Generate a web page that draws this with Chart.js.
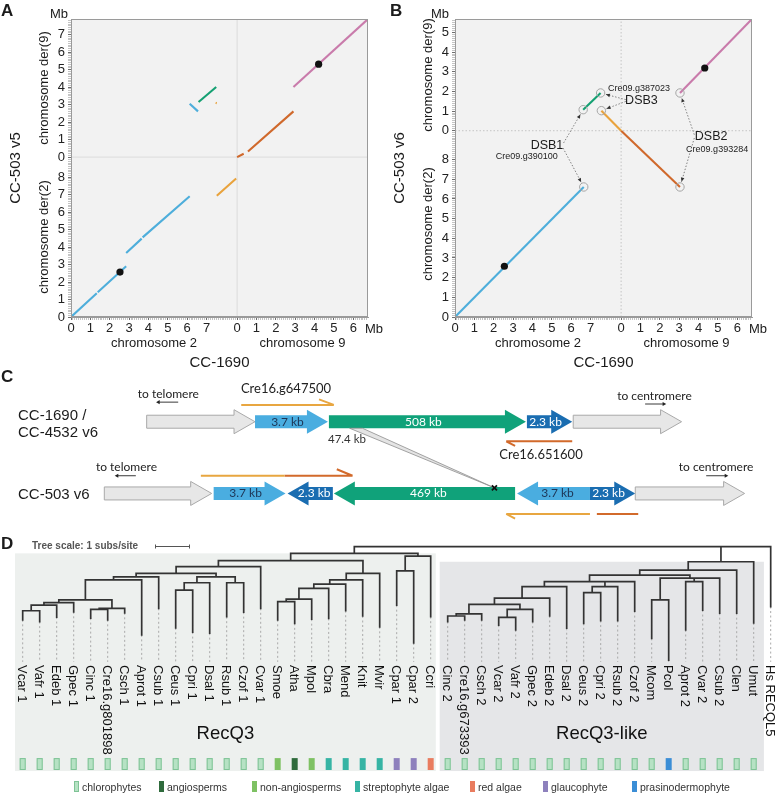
<!DOCTYPE html>
<html>
<head>
<meta charset="utf-8">
<title>Chromosome 2/9 rearrangement in CC-503 and RecQ3 phylogeny</title>
<script src="https://cdn.jsdelivr.net/npm/chart.js"></script>
<style>
  html, body { margin: 0; padding: 0; background: #fff; }
  #fig { position: relative; width: 778px; height: 793px; overflow: hidden;
         font-family: "Liberation Sans", Arial, sans-serif; color: #1b1b1b; }
  #fig canvas { position: absolute; }
  .lbl { position: absolute; white-space: nowrap; line-height: 1; transform: translate(-50%, -50%); }
  .rot { transform: translate(-50%, -50%) rotate(-90deg); }
  .lft { position: absolute; white-space: nowrap; line-height: 1; transform: translate(0, -50%); }
  .panel { position: absolute; font-weight: bold; font-size: 17px; line-height: 1; }
  .lato { font-family: Lato, "Liberation Sans", sans-serif; }
  .tip { position: absolute; writing-mode: vertical-rl; font-size: 13px; line-height: 1;
         white-space: nowrap; transform: translateX(-50%); color: #111; }
  .sw { position: absolute; width: 5px; height: 11px; box-sizing: border-box; }
</style>
</head>
<body>
<div id="fig">
  <canvas id="dotA" width="390" height="340" style="left:0;top:0"></canvas>
  <canvas id="dotB" width="388" height="340" style="left:390px;top:0"></canvas>
  <canvas id="genes" width="778" height="170" style="left:0;top:360px"></canvas>
  <canvas id="tree" width="778" height="263" style="left:0;top:530px"></canvas>
</div>
<script>
// ---------------- A / B : dot plots (Mb) ----------------
// CC-1690 chromosomes on x
const chr2Len = 8.58;
const chr9Len = 6.76;
const chr2Ticks = [0, 1, 2, 3, 4, 5, 6, 7];
const chr9Ticks = [0, 1, 2, 3, 4, 5, 6];

// CC-503 derivative chromosomes on y
const v5Der2Len = 9.14, v5Der9Len = 7.89;
const v6Der2Len = 9.47, v6Der9Len = 5.68;
const der2Ticks = [0, 1, 2, 3, 4, 5, 6, 7, 8];
const v5Der9Ticks = [0, 1, 2, 3, 4, 5, 6, 7];
const v6Der9Ticks = [0, 1, 2, 3, 4, 5];

// alignment blocks: [x chrom, x start, x end, y chrom, y start, y end]
const v5Chr2Der2  = [["2", 0, 1.33, "d2", 0, 1.36], ["2", 1.38, 2.85, "d2", 1.42, 2.9],
                     ["2", 2.85, 3.65, "d2", 3.66, 4.48], ["2", 3.7, 6.13, "d2", 4.55, 6.9]];
const v5Chr2End   = [["2", 7.53, 8.53, "d2", 6.93, 7.92], ["2", 7.47, 7.53, "d9", 3.1, 3.08]];
const v5Chr2Inv   = [["2", 6.13, 6.56, "d9", 3.05, 2.61]];
const v5Chr2Der9  = [["2", 6.59, 7.5, "d9", 3.15, 4.0]];
const v5Chr9Start = [["9", 0, 0.34, "d9", 0, 0.19], ["9", 0.56, 2.91, "d9", 0.32, 2.61]];
const v5Chr9Der9  = [["9", 2.91, 6.76, "d9", 4.0, 7.89]];
const v5Markers   = [["2", 2.53, "d2", 2.57], ["9", 4.21, "d9", 5.31]];

const v6Chr2Der2  = [["2", 0, 6.65, "d2", 0, 6.61]];
const v6Chr2Der9  = [["2", 6.62, 7.52, "d9", 1.07, 1.92]];
const v6Chr2End   = [["2", 7.56, 8.58, "d9", 1.02, 0]];
const v6Chr9Start = [["9", 0, 3.04, "d2", 9.47, 6.61]];
const v6Chr9Der9  = [["9", 3.04, 6.76, "d9", 1.92, 5.68]];
const v6Markers   = [["2", 2.55, "d2", 2.58], ["9", 4.32, "d9", 3.19]];
const v6Breaks    = [["2", 6.65, "d2", 6.61], ["2", 6.62, "d9", 1.07], ["2", 7.52, "d9", 1.92],
                     ["2", 7.56, "d9", 1.02], ["9", 3.04, "d2", 6.61], ["9", 3.04, "d9", 1.92]];
const dsbNames  = ["DSB1", "DSB2", "DSB3"];
const dsbGenes  = ["Cre09.g390100", "Cre09.g393284", "Cre09.g387023"];
const dsbBreaks = [[1, 0], [5, 4], [2, 3]];   // index into v6Breaks

// ---------------- C : gene blocks (schematic) ----------------
const lineNames = [["CC-1690 /", "CC-4532 v6"], ["CC-503 v6"]];
const rowY      = [420, 497];
const geneRow   = [0, 0, 0, 0, 0, 1, 1, 1, 1, 1, 1, 1];
const geneFrom  = [143, 253, 328, 529, 576, 100, 211, 286, 333, 519, 593, 639];
const geneTo    = [253, 327, 528, 575, 686, 209, 284, 332, 517, 593, 639, 750];
const geneDir   = [1, 1, 1, 1, 1, 1, 1, -1, -1, -1, 1, 1];
const geneKind  = ["flank", "r37", "inv", "r23", "flank", "flank", "r37", "r23", "inv", "r37", "r23", "flank"];
const geneLabel = ["", "3.7 kb", "508 kb", "2.3 kb", "", "", "3.7 kb", "2.3 kb", "469 kb", "3.7 kb", "2.3 kb", ""];
// primers: [x1, y1, x2, y2, gene]
const primerSegs = [
  [239, 402, 333, 402, "a"], [333, 402, 318, 396, "a"],
  [575, 441, 508, 441, "b"], [508, 441, 517, 446, "b"],
  [198, 478, 283, 478, "a"], [283, 478, 352, 478, "b"], [352, 478, 336, 471, "b"],
  [593, 519, 508, 519, "a"], [508, 519, 517, 524, "a"], [600, 519, 642, 519, "b"]
];
const pointerText = ["to telomere", "to centromere", "to telomere", "to centromere"];
const pointerFrom = [175, 649, 132, 711];
const pointerTo   = [155, 668, 113, 731];
const pointerY    = [399, 401, 478, 478];
const deletionWedge = [[349, 427], [362, 427], [496, 491]];
const breakMark = [496, 491];

// ---------------- D : RecQ3 tree ----------------
const taxa = ["Vcar 1", "Vafr 1", "Edeb 1", "Gpec 1", "Cinc 1", "Cre16.g801898", "Csch 1", "Aprot 1",
  "Csub 1", "Ceus 1", "Cpri 1", "Dsal 1", "Rsub 1", "Czof 1", "Cvar 1", "Smoe", "Atha", "Mpol", "Cbra",
  "Mend", "Knit", "Mvir", "Cpar 1", "Cpar 2", "Ccri", "Cinc 2", "Cre16.g673393", "Csch 2", "Vcar 2",
  "Vafr 2", "Gpec 2", "Edeb 2", "Dsal 2", "Ceus 2", "Cpri 2", "Rsub 2", "Czof 2", "Mcom", "Pcol",
  "Aprot 2", "Cvar 2", "Csub 2", "Clen", "Umut", "Hs RECQL5"];
const taxonGroup = ["chl", "chl", "chl", "chl", "chl", "chl", "chl", "chl", "chl", "chl", "chl", "chl",
  "chl", "chl", "chl", "non", "ang", "non", "str", "str", "str", "str", "gla", "gla", "red", "chl", "chl",
  "chl", "chl", "chl", "chl", "chl", "chl", "chl", "chl", "chl", "chl", "chl", "pra", "chl", "chl", "chl",
  "chl", "chl", ""];
const groupKeys  = ["chl", "ang", "non", "str", "red", "gla", "pra"];
const groupNames = ["chlorophytes", "angiosperms", "non-angiosperms", "streptophyte algae", "red algae",
  "glaucophyte", "prasinodermophyte"];
// node = [depth from root (subs/site), children...]; tip = [name, depth]
const tree = [0,
  [0.19,
    [0.40,
      [0.57,
        [0.76,
          [0.86,
            [0.95,
              [1.52,
                [1.60, [1.67, [1.83, ["Vcar 1", 2.09], ["Vafr 1", 2.14]], ["Edeb 1", 2.01]], ["Gpec 1", 1.86]],
                [1.76, [1.79, ["Cinc 1", 2.04], ["Cre16.g801898", 2.09]], ["Csch 1", 1.89]]],
              ["Aprot 1", 2.52]],
            ["Csub 1", 1.76]],
          [0.86,
            [1.03, [1.24, ["Ceus 1", 2.32], ["Cpri 1", 2.44]], ["Dsal 1", 2.47]],
            [1.03, ["Rsub 1", 2.0], ["Czof 1", 1.87]]]],
        ["Cvar 1", 1.76]],
      [0.76,
        [0.95,
          [1.07,
            [1.19, [1.50, [1.57, ["Smoe", 2.09], ["Atha", 2.19]], ["Mpol", 2.07]], ["Cbra", 2.05]],
            ["Mend", 1.83]],
          ["Knit", 1.98]],
        ["Mvir", 2.29]]],
    [0.27, [0.69, ["Cpar 1", 1.67], ["Cpar 2", 2.75]], ["Ccri", 2.0]]],
  [0.43,
    [0.67,
      [0.81,
        [1.0,
          [1.14,
            [1.47,
              [1.65,
                [1.92, [1.98, ["Cinc 2", 2.14], ["Cre16.g673393", 2.09]], ["Csch 2", 2.09]],
                [1.79, [2.02, ["Vcar 2", 2.24], ["Vafr 2", 2.38]], ["Gpec 2", 2.14]]],
              ["Edeb 2", 1.98]],
            ["Dsal 2", 2.33]],
          [1.14, [1.31, ["Ceus 2", 2.19], ["Cpri 2", 2.11]], ["Rsub 2", 2.11]],
          ["Czof 2", 1.84]],
        [0.90,
          [1.52, ["Mcom", 2.62], ["Pcol", 3.24]],
          [1.0, ["Aprot 2", 2.38], ["Cvar 2", 1.81]],
          ["Csub 2", 1.90]]],
      ["Clen", 1.90]],
    ["Umut", 2.18]],
  ["Hs RECQL5", 1.71]];

// ======================================================================
const FONT = '"Liberation Sans", Arial, sans-serif';
Chart.defaults.font.family = FONT;
Chart.defaults.animation = false;
Chart.defaults.events = [];
Chart.defaults.plugins.legend.display = false;
Chart.defaults.plugins.tooltip.enabled = false;

const fig = document.getElementById("fig");
function place(text, x, y, cls, style) {
  const el = document.createElement("div");
  el.className = cls || "lbl";
  el.textContent = text;
  el.style.left = x + "px";
  el.style.top = y + "px";
  if (style) Object.assign(el.style, style);
  fig.appendChild(el);
  return el;
}

// major ticks per chromosome, minor every 0.1 Mb
function axisTicks(parts) {
  const ticks = [], labels = [], major = [];
  parts.forEach(([offset, len, majors]) => {
    for (let k = 0; k <= Math.floor(len * 10 + 1e-9); k++) {
      const v = k / 10;
      const isMajor = majors.includes(v);
      ticks.push({ value: offset + v });
      labels.push(isMajor ? String(v) : "");
      major.push(isMajor);
    }
  });
  return { ticks, labels, major };
}

const plotFrame = {
  id: "plotFrame",
  beforeDraw(chart) {
    const { ctx, chartArea: a } = chart;
    ctx.save();
    ctx.fillStyle = "#f2f2f2";
    ctx.fillRect(a.left, a.top, a.width, a.height);
    ctx.restore();
  },
  afterDraw(chart) {
    const { ctx, chartArea: a } = chart;
    ctx.save();
    ctx.strokeStyle = "#9a9a9a";
    ctx.lineWidth = 1;
    ctx.strokeRect(Math.round(a.left) + 0.5, Math.round(a.top) + 0.5, Math.round(a.width) - 1, Math.round(a.height) - 1);
    ctx.restore();
  }
};

function dotPlot(canvasId, p) {
  const xMax = chr2Len + chr9Len, yMax = p.der2Len + p.der9Len;
  const X = (c, v) => (c === "9" ? chr2Len + v : v);
  const Y = (c, v) => (c === "d9" ? p.der2Len + v : v);
  const path = blocks => blocks.flatMap(b => [
    { x: X(b[0], b[1]), y: Y(b[3], b[4]) },
    { x: X(b[0], b[2]), y: Y(b[3], b[5]) },
    { x: null, y: null }
  ]);
  const pts = list => list.map(m => ({ x: X(m[0], m[1]), y: Y(m[2], m[3]) }));
  const xt = axisTicks([[0, chr2Len, chr2Ticks], [chr2Len, chr9Len, chr9Ticks]]);
  const yt = axisTicks([[0, p.der2Len, der2Ticks], [p.der2Len, p.der9Len, p.der9Ticks]]);

  const datasets = [{ data: pts(p.markers), pointRadius: 3.6, pointBackgroundColor: "#111", pointBorderWidth: 0 }];
  if (p.breaks) {
    datasets.push({ data: pts(p.breaks), pointRadius: 4.2, pointBackgroundColor: "rgba(0,0,0,0)",
                    pointBorderColor: "#a6a6a6", pointBorderWidth: 1 });
  }
  p.series.forEach(s => datasets.push({ data: path(s.blocks), showLine: true, borderColor: s.color,
                                        borderWidth: 2.1, pointRadius: 0, spanGaps: false }));
  datasets.push({ data: [{ x: chr2Len, y: 0 }, { x: chr2Len, y: yMax }, { x: null, y: null },
                         { x: 0, y: p.der2Len }, { x: xMax, y: p.der2Len }],
                  showLine: true, borderColor: p.divColor, borderWidth: 1, borderDash: p.divDash,
                  pointRadius: 0, spanGaps: false });

  const arrows = {
    id: "dsbArrows",
    afterDatasetsDraw(chart) {
      if (!p.arrows) return;
      const { ctx, scales: { x, y } } = chart;
      ctx.save();
      ctx.strokeStyle = "#6e6e6e";
      ctx.fillStyle = "#333";
      ctx.lineWidth = 0.9;
      p.arrows.forEach(([fx, fy, tx, ty]) => {
        const x1 = x.getPixelForValue(fx), y1 = y.getPixelForValue(fy);
        let x2 = x.getPixelForValue(tx), y2 = y.getPixelForValue(ty);
        const L = Math.hypot(x2 - x1, y2 - y1), ux = (x2 - x1) / L, uy = (y2 - y1) / L;
        x2 -= ux * 5.5; y2 -= uy * 5.5;
        ctx.setLineDash([1.4, 1.8]);
        ctx.beginPath(); ctx.moveTo(x1, y1); ctx.lineTo(x2, y2); ctx.stroke();
        ctx.setLineDash([]);
        ctx.beginPath();
        ctx.moveTo(x2, y2);
        ctx.lineTo(x2 - ux * 4 - uy * 1.8, y2 - uy * 4 + ux * 1.8);
        ctx.lineTo(x2 - ux * 4 + uy * 1.8, y2 - uy * 4 - ux * 1.8);
        ctx.closePath(); ctx.fill();
      });
      ctx.restore();
    }
  };

  const tickFont = { family: FONT, size: 13 };
  const chart = new Chart(document.getElementById(canvasId), {
    type: "scatter",
    data: { datasets },
    options: {
      responsive: false,
      devicePixelRatio: 1,
      layout: { padding: { left: 0, top: 19, right: p.padRight, bottom: 0 } },
      scales: {
        x: {
          type: "linear", min: 0, max: xMax,
          afterBuildTicks: ax => { ax.ticks = xt.ticks.map(t => ({ value: t.value })); },
          afterFit: ax => { ax.height = 23; },
          ticks: { autoSkip: false, maxRotation: 0, minRotation: 0, padding: 1, color: "#222", font: tickFont,
                   callback: (v, i) => xt.labels[i] },
          grid: { drawOnChartArea: false, drawTicks: true, tickLength: 3,
                  tickColor: c => (xt.major[c.index] ? "#6f6f6f" : "#c4c4c4") },
          border: { display: true, color: "#9a9a9a" }
        },
        y: {
          type: "linear", min: 0, max: yMax,
          afterBuildTicks: ax => { ax.ticks = yt.ticks.map(t => ({ value: t.value })); },
          afterFit: ax => { ax.width = p.yAxisW; },
          ticks: { autoSkip: false, padding: 3, color: "#222", font: tickFont, callback: (v, i) => yt.labels[i] },
          grid: { drawOnChartArea: false, drawTicks: true, tickLength: 3,
                  tickColor: c => (yt.major[c.index] ? "#6f6f6f" : "#c4c4c4") },
          border: { display: true, color: "#9a9a9a" }
        }
      }
    },
    plugins: [plotFrame, arrows]
  });

  // axis titles
  const a = chart.chartArea, xs = chart.scales.x, ys = chart.scales.y;
  const L = p.left;
  place("chromosome der(9)", L + a.left - 28.5, (ys.getPixelForValue(p.der2Len) + ys.getPixelForValue(yMax)) / 2,
        "lbl rot", { fontSize: "13px" });
  place("chromosome der(2)", L + a.left - 28.5, (ys.getPixelForValue(0) + ys.getPixelForValue(p.der2Len)) / 2,
        "lbl rot", { fontSize: "13px" });
  place(p.strain, L + a.left - 57.5, (a.top + a.bottom) / 2, "lbl rot", { fontSize: "15px" });
  place("Mb", L + a.left + p.mbDx, 13, "lbl", { fontSize: "13px" });
  place("Mb", L + a.right + 6, 328, "lbl", { fontSize: "13px" });
  place("chromosome 2", L + (xs.getPixelForValue(0) + xs.getPixelForValue(chr2Len)) / 2, 342, "lbl", { fontSize: "13px" });
  place("chromosome 9", L + (xs.getPixelForValue(chr2Len) + xs.getPixelForValue(xMax)) / 2, 342, "lbl", { fontSize: "13px" });
  place("CC-1690", L + (a.left + a.right) / 2, 361, "lbl", { fontSize: "15px" });
  return chart;
}

const BLUE = "#4eaedb", GREEN = "#14a072", ORANGE = "#e9a33d", RUST = "#d0692c", MAUVE = "#c97bab";

dotPlot("dotA", {
  left: 0, der2Len: v5Der2Len, der9Len: v5Der9Len, der9Ticks: v5Der9Ticks, strain: "CC-503 v5",
  yAxisW: 71, padRight: 22, mbDx: -12, divColor: "#dcdcdc", divDash: [],
  markers: v5Markers,
  series: [
    { blocks: v5Chr2Der2, color: BLUE }, { blocks: v5Chr2Inv, color: BLUE },
    { blocks: v5Chr2Der9, color: GREEN }, { blocks: v5Chr2End, color: ORANGE },
    { blocks: v5Chr9Start, color: RUST }, { blocks: v5Chr9Der9, color: MAUVE }
  ]
});

// DSB annotation anchors (combined Mb coordinates of panel B)
const dsbLabelAt = [[4.75, 8.72], [13.23, 9.18], [9.63, 11.01]];
const dsbGeneAt  = [[3.71, 8.16], [13.54, 8.54], [9.51, 11.64]];
const dsbFrom    = [[[5.61, 8.85], [5.58, 8.59]], [[12.36, 9.27], [12.36, 9.1]], [[8.82, 11.05], [8.82, 10.96]]];
const bx = b => (b[0] === "9" ? chr2Len + b[1] : b[1]);
const by = b => (b[2] === "d9" ? v6Der2Len + b[3] : b[3]);
const dsbArrowList = [];
dsbBreaks.forEach((pair, k) => pair.forEach((bi, j) => {
  const b = v6Breaks[bi];
  dsbArrowList.push([dsbFrom[k][j][0], dsbFrom[k][j][1], bx(b), by(b)]);
}));

const chartB = dotPlot("dotB", {
  left: 390, der2Len: v6Der2Len, der9Len: v6Der9Len, der9Ticks: v6Der9Ticks, strain: "CC-503 v6",
  yAxisW: 65, padRight: 26, mbDx: -15, divColor: "#c4c4c4", divDash: [1.5, 2],
  markers: v6Markers, breaks: v6Breaks, arrows: dsbArrowList,
  series: [
    { blocks: v6Chr2Der2, color: BLUE }, { blocks: v6Chr2Der9, color: GREEN },
    { blocks: v6Chr2End, color: ORANGE }, { blocks: v6Chr9Start, color: RUST },
    { blocks: v6Chr9Der9, color: MAUVE }
  ]
});
dsbNames.forEach((n, k) => {
  const xs = chartB.scales.x, ys = chartB.scales.y;
  place(n, 390 + xs.getPixelForValue(dsbLabelAt[k][0]), ys.getPixelForValue(dsbLabelAt[k][1]), "lbl", { fontSize: "12.5px" });
  place(dsbGenes[k], 390 + xs.getPixelForValue(dsbGeneAt[k][0]), ys.getPixelForValue(dsbGeneAt[k][1]), "lbl",
        { fontSize: "9px", color: "#222" });
});

place("A", 1, 2, "panel");
place("B", 390, 2, "panel");

// ---------------- C ----------------
const geneStyle = {
  flank: { fill: "#e7e7e7", stroke: "#a9a9a9", text: "#333" },
  r37:   { fill: "#4aade0", stroke: null, text: "#1d3555" },
  r23:   { fill: "#1a6db1", stroke: null, text: "#ffffff" },
  inv:   { fill: "#10a27a", stroke: null, text: "#ffffff" }
};
const primerColor = { a: "#e8a640", b: "#d26a2b" };

const geneShapes = {
  id: "geneShapes",
  beforeDatasetsDraw(chart) {
    const { ctx, scales: { x, y } } = chart;
    const body = 6.5, head = 12, hl = 21;
    ctx.save();
    geneFrom.forEach((from, i) => {
      const st = geneStyle[geneKind[i]];
      const x1 = x.getPixelForValue(from), x2 = x.getPixelForValue(geneTo[i]);
      const yc = y.getPixelForValue(rowY[geneRow[i]]);
      const poly = geneDir[i] > 0
        ? [[x1, yc - body], [x2 - hl, yc - body], [x2 - hl, yc - head], [x2, yc], [x2 - hl, yc + head], [x2 - hl, yc + body], [x1, yc + body]]
        : [[x2, yc - body], [x1 + hl, yc - body], [x1 + hl, yc - head], [x1, yc], [x1 + hl, yc + head], [x1 + hl, yc + body], [x2, yc + body]];
      ctx.beginPath();
      poly.forEach(([px, py], k) => (k ? ctx.lineTo(px, py) : ctx.moveTo(px, py)));
      ctx.closePath();
      ctx.fillStyle = st.fill;
      ctx.fill();
      if (st.stroke) { ctx.strokeStyle = st.stroke; ctx.lineWidth = 1; ctx.stroke(); }
    });
    // deleted segment joining the two lines
    ctx.beginPath();
    deletionWedge.forEach(([wx, wy], k) => {
      const px = x.getPixelForValue(wx), py = y.getPixelForValue(wy);
      k ? ctx.lineTo(px, py) : ctx.moveTo(px, py);
    });
    ctx.closePath();
    ctx.fillStyle = "rgba(225,225,225,0.9)";
    ctx.fill();
    ctx.strokeStyle = "#8e8e8e";
    ctx.lineWidth = 0.8;
    ctx.stroke();
    ctx.restore();
  }
};

const primerData = kind => primerSegs.filter(s => s[4] === kind)
  .flatMap(s => [{ x: s[0], y: s[1] }, { x: s[2], y: s[3] }, { x: null, y: null }]);
const pointerLines = pointerFrom.flatMap((f, i) => [{ x: f, y: pointerY[i] }, { x: pointerTo[i], y: pointerY[i] }, { x: null, y: null }]);
const pointerHeads = pointerTo.map((t, i) => ({ x: t, y: pointerY[i], rot: t > pointerFrom[i] ? 90 : -90 }));

const genesChart = new Chart(document.getElementById("genes"), {
  type: "scatter",
  data: {
    datasets: [
      { data: [{ x: breakMark[0], y: breakMark[1] }], pointStyle: "crossRot", pointRadius: 3.6,
        pointBorderColor: "#111", pointBorderWidth: 1.8 },
      { data: primerData("a"), showLine: true, borderColor: primerColor.a, borderWidth: 2, pointRadius: 0, spanGaps: false },
      { data: primerData("b"), showLine: true, borderColor: primerColor.b, borderWidth: 2, pointRadius: 0, spanGaps: false },
      { data: pointerHeads, pointStyle: "triangle", pointRadius: 2.4, pointRotation: c => (c.raw ? c.raw.rot : 0),
        pointBackgroundColor: "#222", pointBorderWidth: 0 },
      { data: pointerLines, showLine: true, borderColor: "#222", borderWidth: 0.9, pointRadius: 0, spanGaps: false }
    ]
  },
  options: {
    responsive: false, devicePixelRatio: 1, layout: { padding: 0 },
    scales: {
      x: { type: "linear", display: false, min: 0, max: 778 },
      y: { type: "linear", display: false, min: 360, max: 530, reverse: true }
    }
  },
  plugins: [geneShapes]
});

(function labelGenes() {
  const xs = genesChart.scales.x, ys = genesChart.scales.y, top = 360;
  geneLabel.forEach((t, i) => {
    if (!t) return;
    const cx = (xs.getPixelForValue(geneFrom[i]) + xs.getPixelForValue(geneTo[i])) / 2 - geneDir[i] * 4;
    place(t, cx, top + ys.getPixelForValue(rowY[geneRow[i]]), "lbl lato",
          { fontSize: "12px", color: geneStyle[geneKind[i]].text });
  });
  pointerText.forEach((t, i) => {
    const cx = (xs.getPixelForValue(pointerFrom[i]) + xs.getPixelForValue(pointerTo[i])) / 2;
    place(t, cx, top + ys.getPixelForValue(pointerY[i]) - 8.5, "lbl lato", { fontSize: "12px", color: "#222" });
  });
  place("Cre16.g647500", 286, 388, "lbl lato", { fontSize: "13px", color: "#222" });
  place("Cre16.651600", 541, 454, "lbl lato", { fontSize: "13px", color: "#222" });
  place("47.4 kb", 347, 439, "lbl lato", { fontSize: "11.5px", color: "#333" });
  place(lineNames[0][0], 18, top + ys.getPixelForValue(rowY[0]) - 8, "lft", { fontSize: "15px" });
  place(lineNames[0][1], 18, top + ys.getPixelForValue(rowY[0]) + 9, "lft", { fontSize: "15px" });
  place(lineNames[1][0], 18, top + ys.getPixelForValue(rowY[1]), "lft", { fontSize: "15px" });
  place("C", 1, 368, "panel");
})();

// ---------------- D ----------------
const groupColor = { chl: "#b6e2c4", ang: "#2f6b3c", non: "#7ec163", str: "#36b4a4",
                     red: "#e97c5f", gla: "#8e81bd", pra: "#3b8ed6" };
const groupEdge = { chl: "#7fc396" };

const branches = [], tipEnds = [], nodes = [];
function layoutTree(node) {
  if (typeof node[0] === "string") {
    const i = taxa.indexOf(node[0]);
    tipEnds.push({ x: i, d: node[1] });
    return { x: i, d: node[1], lo: i, hi: i };
  }
  const d = node[0];
  const kids = node.slice(1).map(layoutTree);
  const x0 = kids[0].x, x1 = kids[kids.length - 1].x;
  branches.push({ x: x0, y: d }, { x: x1, y: d }, { x: null, y: null });
  kids.forEach(k => branches.push({ x: k.x, y: d }, { x: k.x, y: k.d }, { x: null, y: null }));
  const out = { x: (x0 + x1) / 2, d, lo: kids[0].lo, hi: kids[kids.length - 1].hi };
  nodes.push({ node, ...out });
  return out;
}
layoutTree(tree);
const guideDepth = 3.29, labelDepth = 3.38, swatchTop = 6.04, swatchBottom = 6.38, cladeBottom = 6.41;
const guides = tipEnds.flatMap(t => [{ x: t.x, y: t.d }, { x: t.x, y: guideDepth }, { x: null, y: null }]);
const cladeOf = n => nodes.find(o => o.node === n);
const clades = [
  { name: "RecQ3", info: cladeOf(tree[1]), padL: 0.45, padR: 0.3, fill: "#edf0ee" },
  { name: "RecQ3-like", info: cladeOf(tree[2]), padL: 0.47, padR: 0.6, fill: "#e5e6e8" }
];

const treeDecor = {
  id: "treeDecor",
  beforeDatasetsDraw(chart) {
    const { ctx, scales: { x, y } } = chart;
    ctx.save();
    clades.forEach(c => {
      const l = x.getPixelForValue(c.info.lo - c.padL), r = x.getPixelForValue(c.info.hi + c.padR);
      const t = y.getPixelForValue(c.info.d), b = y.getPixelForValue(cladeBottom);
      ctx.fillStyle = c.fill;
      ctx.fillRect(l, t, r - l, b - t);
    });
    ctx.restore();
  },
  afterDatasetsDraw(chart) {
    const { ctx, scales: { x, y } } = chart;
    ctx.save();
    const t = y.getPixelForValue(swatchTop), b = y.getPixelForValue(swatchBottom);
    taxa.forEach((n, i) => {
      const g = taxonGroup[i];
      if (!g) return;
      const cx = x.getPixelForValue(i);
      ctx.fillStyle = groupColor[g];
      ctx.fillRect(cx - 3, t, 6, b - t);
      if (groupEdge[g]) { ctx.strokeStyle = groupEdge[g]; ctx.lineWidth = 1; ctx.strokeRect(cx - 2.5, t + 0.5, 5, b - t - 1); }
    });
    // scale bar: 1 subs/site
    const unit = Math.abs(y.getPixelForValue(1) - y.getPixelForValue(0));
    const sy = 16.5, sx = 155;
    ctx.strokeStyle = "#555"; ctx.lineWidth = 1;
    ctx.beginPath();
    ctx.moveTo(sx, sy); ctx.lineTo(sx + unit, sy);
    ctx.moveTo(sx + 0.5, sy - 2); ctx.lineTo(sx + 0.5, sy + 2);
    ctx.moveTo(sx + unit - 0.5, sy - 2); ctx.lineTo(sx + unit - 0.5, sy + 2);
    ctx.stroke();
    ctx.restore();
  }
};

const treeChart = new Chart(document.getElementById("tree"), {
  type: "scatter",
  data: {
    datasets: [
      { data: branches, showLine: true, borderColor: "#333", borderWidth: 1.7, borderCapStyle: "square",
        pointRadius: 0, spanGaps: false },
      { data: guides, showLine: true, borderColor: "#a9a9a9", borderWidth: 1, borderDash: [2, 2.5],
        pointRadius: 0, spanGaps: false }
    ]
  },
  options: {
    responsive: false, devicePixelRatio: 1, layout: { padding: 0 },
    scales: {
      x: { type: "linear", display: false, min: -1.335, max: 44.43 },
      y: { type: "linear", display: false, min: -0.477, max: 7.037, reverse: true }
    }
  },
  plugins: [treeDecor]
});

(function labelTree() {
  const xs = treeChart.scales.x, ys = treeChart.scales.y, top = 530;
  taxa.forEach((n, i) => place(n, xs.getPixelForValue(i), top + ys.getPixelForValue(labelDepth), "tip"));
  clades.forEach(c => {
    const cx = (xs.getPixelForValue(c.info.lo - c.padL) + xs.getPixelForValue(c.info.hi + c.padR)) / 2;
    place(c.name, cx, top + ys.getPixelForValue(5.32), "lbl", { fontSize: "18.5px", color: "#111" });
  });
  place("D", 1, 535, "panel");
  place("Tree scale: 1 subs/site", 32, 546, "lft", { fontSize: "10px", fontWeight: "bold", color: "#555" });
  const legendX = [74, 159, 252, 355, 470, 543, 632];
  groupKeys.forEach((g, k) => {
    const sw = document.createElement("div");
    sw.className = "sw";
    sw.style.left = legendX[k] + "px";
    sw.style.top = "781px";
    sw.style.background = groupColor[g];
    if (groupEdge[g]) sw.style.border = "1px solid " + groupEdge[g];
    fig.appendChild(sw);
    place(groupNames[k], legendX[k] + 8, 787, "lft", { fontSize: "10.5px", color: "#333" });
  });
})();
</script>
</body>
</html>
